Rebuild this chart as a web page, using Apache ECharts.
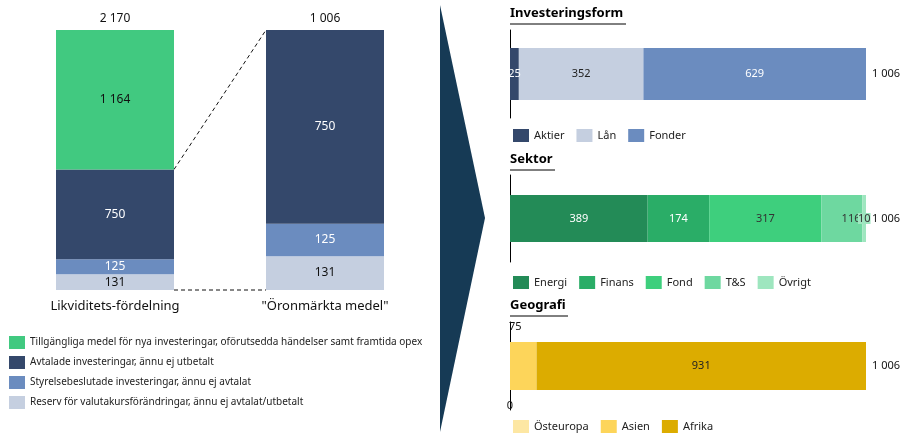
<!DOCTYPE html>
<html><head><meta charset="utf-8">
<script src="https://cdn.jsdelivr.net/npm/echarts@6/dist/echarts.min.js"></script>
<style>html,body{margin:0;padding:0;background:#fff}#main{width:917px;height:438px}</style>
</head><body><div id="main"></div>
<script>
// left side: liquidity split and earmarked funds
var leftNames = ['Tillgängliga medel för nya investeringar, oförutsedda händelser samt framtida opex',
  'Avtalade investeringar, ännu ej utbetalt',
  'Styrelsebeslutade investeringar, ännu ej avtalat',
  'Reserv för valutakursförändringar, ännu ej avtalat/utbetalt'];
var leftColors = ['#41c980', '#34486b', '#6b8cbf', '#c5cfe0'];
var leftLabelColors = ['#111', '#fff', '#fff', '#111'];
var likviditet = [1164, 750, 125, 131];
var oronmarkt = [0, 750, 125, 131];

// right side
var formNames = ['Aktier', 'Lån', 'Fonder'];
var formValues = [25, 352, 629];
var formColors = ['#34486b', '#c5cfe0', '#6b8cbf'];
var formLabelColors = ['#fff', '#222', '#fff'];

var sektorNames = ['Energi', 'Finans', 'Fond', 'T&S', 'Övrigt'];
var sektorValues = [389, 174, 317, 116, 10];
var sektorColors = ['#238b57', '#2aad67', '#3ecf7d', '#6ed8a0', '#9ee6bf'];
var sektorLabelColors = ['#fff', '#fff', '#333', '#333', '#333'];

var geoNames = ['Östeuropa', 'Asien', 'Afrika'];
var geoValues = [0, 75, 931];
var geoColors = ['#fde7a3', '#fdd55a', '#dcac00'];

function fmt(v) { return String(v).replace(/\B(?=(\d{3})+(?!\d))/g, ' '); }
function sum(a) { return a.reduce(function (s, x) { return s + x; }, 0); }

var FONT = 'Noto Sans';
var myChart = echarts.init(document.getElementById('main'), null, {renderer: 'canvas'});

var grids = [
  {left: 10, top: 30, width: 210, height: 260},
  {left: 220, top: 30, width: 210, height: 260},
  {left: 510, top: 30, width: 356, height: 88},
  {left: 510, top: 175, width: 356, height: 87},
  {left: 510, top: 322, width: 356, height: 88}
];
var xAxes = [], yAxes = [];
[['Likviditets-fördelning', sum(likviditet)], ['"Öronmärkta medel"', sum(oronmarkt)]].forEach(function (c, i) {
  xAxes.push({gridIndex: i, type: 'category', data: [c[0]], axisLine: {show: false}, axisTick: {show: false},
    axisLabel: {color: '#111', fontSize: 13, fontFamily: FONT, margin: 10}});
  yAxes.push({gridIndex: i, type: 'value', min: 0, max: c[1], show: false});
});
for (var g = 2; g < 5; g++) {
  xAxes.push({gridIndex: g, type: 'value', min: 0, max: 1006, show: false});
  yAxes.push({gridIndex: g, type: 'category', data: [''], axisLine: {lineStyle: {color: '#000'}},
    axisTick: {show: false}, axisLabel: {show: false}});
}

var series = [];
function leftSeries(vals, gi, bw) {
  for (var k = 3; k >= 0; k--) {
    series.push({name: leftNames[k], type: 'bar', stack: 's' + gi, xAxisIndex: gi, yAxisIndex: gi,
      barWidth: bw, data: [vals[k]], itemStyle: {color: leftColors[k]},
      label: {show: vals[k] > 0, color: leftLabelColors[k], fontSize: 12, fontFamily: FONT,
        formatter: function (p) { return fmt(p.value); }}});
  }
  series.push({type: 'bar', stack: 's' + gi, xAxisIndex: gi, yAxisIndex: gi, data: [0], barWidth: bw,
    label: {show: true, position: 'top', color: '#111', fontSize: 12, fontFamily: FONT,
      formatter: fmt(sum(vals))}});
}
leftSeries(likviditet, 0, 118);
leftSeries(oronmarkt, 1, 118);

function rightSeries(names, vals, colors, lcolors, gi, bw, extra) {
  names.forEach(function (n, k) {
    var lab = {show: true, color: lcolors[k], fontSize: 11, fontFamily: FONT,
      formatter: function (p) { return fmt(p.value); }};
    if (extra && extra[k]) lab = Object.assign(lab, extra[k]);
    series.push({name: n, type: 'bar', stack: 'r' + gi, xAxisIndex: gi, yAxisIndex: gi, barWidth: bw,
      data: [vals[k]], itemStyle: {color: colors[k]}, label: lab});
  });
  series.push({type: 'bar', stack: 'r' + gi, xAxisIndex: gi, yAxisIndex: gi, data: [0], barWidth: bw,
    label: {show: true, position: 'right', distance: 6, color: '#111', fontSize: 11, fontFamily: FONT,
      formatter: fmt(sum(vals))}});
}
rightSeries(formNames, formValues, formColors, formLabelColors, 2, 52);
rightSeries(sektorNames, sektorValues, sektorColors, sektorLabelColors, 3, 47,
  [null, null, null, {position: 'insideRight', distance: 2}, {position: 'inside', backgroundColor: '#9ee6bf'}]);
rightSeries(geoNames, geoValues, geoColors, ['#111', '#111', '#222'], 4, 48,
  [{position: 'bottom', distance: 10}, {position: 'top', distance: 10, offset: [-8, 0]}, null]);

function legend(names, top, left) {
  return {data: names, top: top, left: left, orient: 'horizontal', icon: 'rect', itemWidth: 16, itemHeight: 13,
    itemGap: 12, textStyle: {fontSize: 11, fontFamily: FONT, color: '#222'}, selectedMode: false};
}

function title(text, top) {
  return {type: 'text', left: 510, top: top, style: {text: text, fontSize: 13, fontWeight: 'bold',
    fontFamily: FONT, fill: '#000'}};
}

var option = {
  animation: false,
  grid: grids,
  xAxis: xAxes,
  yAxis: yAxes,
  legend: [
    {data: leftNames, orient: 'vertical', left: 4, top: 331, icon: 'rect', itemWidth: 16, itemHeight: 13,
      itemGap: 7, selectedMode: false, textStyle: {fontSize: 10, fontFamily: FONT, color: '#222'}},
    legend(formNames, 124, 508),
    legend(sektorNames, 271, 508),
    legend(geoNames, 415, 508)
  ],
  series: series,
  graphic: [
    {type: 'polygon', shape: {points: [[440, 5], [485, 218], [440, 432]]}, style: {fill: '#163a55'}},
    title('Investeringsform', 7), title('Sektor', 153), title('Geografi', 299),
    {type: 'line', shape: {x1: 510, y1: 24, x2: 626, y2: 24}, style: {stroke: '#000', lineWidth: 1}},
    {type: 'line', shape: {x1: 510, y1: 170, x2: 555, y2: 170}, style: {stroke: '#000', lineWidth: 1}},
    {type: 'line', shape: {x1: 510, y1: 316, x2: 568, y2: 316}, style: {stroke: '#000', lineWidth: 1}}
  ]
};
myChart.setOption(option);

// dashed connectors between the two left bars
var a = myChart.convertToPixel({gridIndex: 0}, [0, 750 + 125 + 131]);
var b = myChart.convertToPixel({gridIndex: 1}, [0, sum(oronmarkt)]);
var c = myChart.convertToPixel({gridIndex: 0}, [0, 0]);
var d = myChart.convertToPixel({gridIndex: 1}, [0, 0]);
option.graphic.push(
  {type: 'line', shape: {x1: a[0] + 59, y1: a[1], x2: b[0] - 59, y2: b[1]}, style: {stroke: '#111', lineDash: [4, 3]}},
  {type: 'line', shape: {x1: c[0] + 59, y1: c[1], x2: d[0] - 59, y2: d[1]}, style: {stroke: '#111', lineDash: [4, 3]}}
);
myChart.setOption({graphic: option.graphic});
</script></body></html>
